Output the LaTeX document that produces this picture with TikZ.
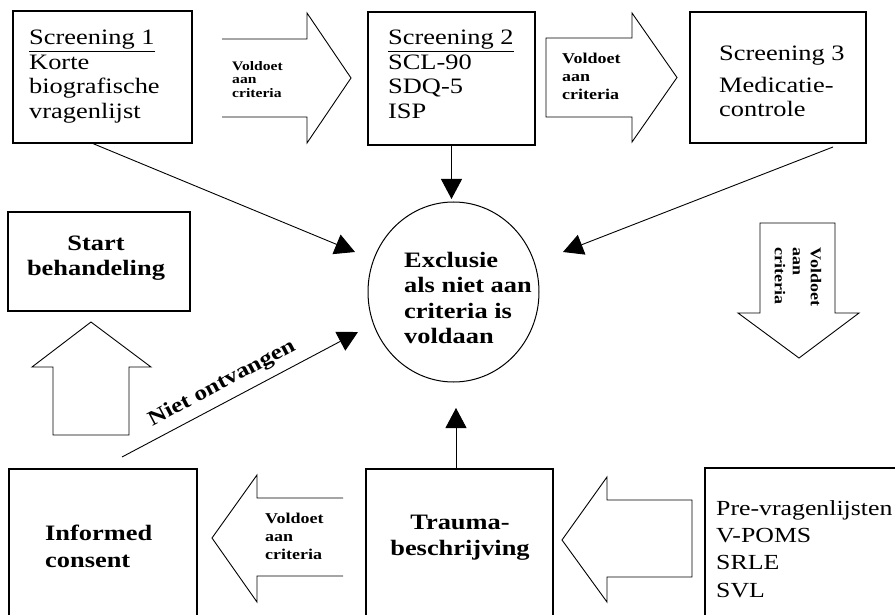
\documentclass[tikz,border=0pt]{standalone}
\usepackage{fontspec}
\setmainfont{Liberation Serif}[FakeStretch=1.2]
\usetikzlibrary{arrows.meta,shapes.geometric}
\tikzset{
  box/.style={draw, line width=1.2pt, rectangle, inner sep=0pt},
  txt/.style={inner sep=0pt, anchor=north west, align=left, font=\fontsize{22}{24.5}\selectfont},
  lbl/.style={inner sep=0pt, anchor=north west, align=left, font=\fontsize{15}{18}\selectfont\bfseries},
  harrow/.style={draw, line width=0.9pt, line join=miter},
  conn/.style={line width=0.9pt, -{Triangle[length=20pt,width=21pt]}},
}
\begin{document}
\begin{tikzpicture}[x=1pt,y=-1pt]
\useasboundingbox (0,0) rectangle (895,615);
\fill[white] (0,0) rectangle (895,615);
\clip (0,0) rectangle (895,615);

% boxes
\node[box, minimum width=179pt, minimum height=132pt] (s1) at (102.5,77) {};
\node[box, minimum width=167pt, minimum height=133pt] (s2) at (451.5,78.5) {};
\node[box, minimum width=176pt, minimum height=131pt] (s3) at (778,77.5) {};
\node[box, minimum width=182pt, minimum height=99pt] (sb) at (99,261.5) {};
\node[box, minimum width=188pt, minimum height=160pt] (ic) at (103,549) {};
\node[box, minimum width=187pt, minimum height=160pt] (tr) at (459.5,549) {};
\node[box, minimum width=220pt, minimum height=160pt] (pre) at (815,548) {};
\node[ellipse, draw, line width=1pt, minimum width=171pt, minimum height=180pt, inner sep=0pt] (ex) at (453.5,292) {};

% box texts
\node[txt] (t1) at (29,30) {\underline{Screening 1}\\Korte\\biografische\\vragenlijst};
\node[txt] (t2) at (388,30) {\underline{Screening 2}\\SCL-90\\SDQ-5\\ISP};
\node[txt] (t3) at (719,46) {Screening 3\\[7pt]Medicatie-\\controle};
\node[txt, anchor=center, align=center, font=\fontsize{22}{25}\selectfont\bfseries] (tsb) at (96,258) {Start\\behandeling};
\node[txt, font=\fontsize{22}{25.3}\selectfont\bfseries] (tex) at (404,252) {Exclusie\\als niet aan\\criteria is\\voldaan};
\node[txt, font=\fontsize{22}{27}\selectfont\bfseries] (tic) at (45,525) {Informed\\consent};
\node[txt, anchor=north, align=center, font=\fontsize{22}{26}\selectfont\bfseries] (ttr) at (460,515) {Trauma-\\beschrijving};
\node[txt, font=\fontsize{21.5}{27.3}\selectfont] (tpre) at (716,500) {Pre-vragenlijsten\\V-POMS\\SRLE\\SVL};

% hollow arrows
\draw[harrow] (222,39) -- (307,39) -- (307,13) -- (351,78) -- (307,143) -- (307,117) -- (222,117);
\draw[harrow] (546,38) -- (632,38) -- (632,13) -- (677,77.5) -- (632,142) -- (632,117) -- (546,117) -- cycle;
\draw[harrow] (343,498) -- (257,498) -- (257,475) -- (212,538) -- (257,602) -- (257,576) -- (343,576);
\draw[harrow] (692,500) -- (607,500) -- (607,477) -- (562,540) -- (607,602) -- (607,577) -- (692,577) -- cycle;
\draw[harrow] (53,435) -- (53,367) -- (32,367) -- (91,322) -- (151,367) -- (129,367) -- (129,435) -- cycle;
\draw[harrow] (760,223) -- (835,223) -- (835,313) -- (859,313) -- (799,358) -- (738,313) -- (760,313) -- cycle;

% arrow labels
\node[lbl, font=\fontsize{13}{13.5}\selectfont\bfseries] (l1) at (232,61) {Voldoet\\aan\\criteria};
\node[lbl] (l2) at (562,53) {Voldoet\\aan\\criteria};
\node[lbl] (l3) at (265,513) {Voldoet\\aan\\criteria};
\node[lbl, anchor=center, rotate=-90] (l4) at (798,277) {Voldoet\\aan\\criteria};

% connectors
\coordinate (c1e) at (355,252);
\coordinate (c2e) at (451.5,199);
\coordinate (c3s) at (833,147);
\coordinate (c3e) at (563,252);
\coordinate (c4s) at (122,457);
\coordinate (c4e) at (358,332);
\coordinate (c5e) at (456,408);
\draw[conn] ([xshift=-9.5pt]s1.south) -- (c1e);
\draw[conn] (s2.south) -- (c2e);
\draw[conn] (c3s) -- (c3e);
\draw[conn] (c4s) -- node[sloped, above=6pt, pos=0.46, inner sep=2pt, font=\fontsize{21}{21}\selectfont\bfseries] (lno) {Niet ontvangen} (c4e);
\draw[conn] ([xshift=-3.5pt]tr.north) -- (c5e);
\end{tikzpicture}
\end{document}
